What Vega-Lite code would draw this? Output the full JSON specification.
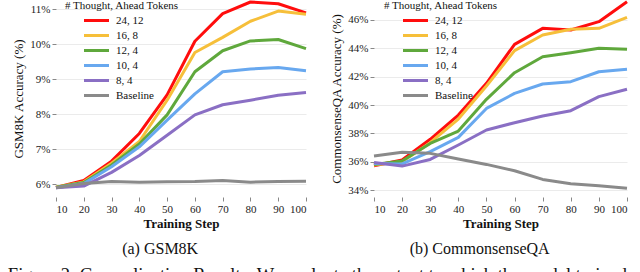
{
  "$schema": "https://vega.github.io/schema/vega-lite/v6.json",
  "background": "white",
  "padding": {"left": 7, "top": 0, "right": 0, "bottom": 0},
  "config": {
    "font": "Liberation Serif",
    "view": {"stroke": null},
    "axis": {"labelFont": "Liberation Serif", "labelFontSize": 11, "labelColor": "#222", "titleFont": "Liberation Serif", "titleFontSize": 13, "titleColor": "#111", "domain": false, "tickColor": "#888", "tickSize": 4, "gridColor": "#ebebeb"},
    "axisX": {"grid": false, "titleFontWeight": "bold", "labelPadding": 2, "titlePadding": 3, "labelAngle": 0},
    "axisY": {"titleFontWeight": "normal", "labelPadding": 2, "titlePadding": 4, "grid": true},
    "legend": {"orient": "none", "symbolType": "M-2.5,0H2.5", "symbolSize": 100, "symbolStrokeWidth": 3, "symbolOffset": 25, "labelFont": "Liberation Serif", "labelFontSize": 11, "labelColor": "#111", "titleFont": "Liberation Serif", "titleFontSize": 11, "titleFontWeight": "normal", "titleColor": "#111", "rowPadding": 2, "titlePadding": 3, "labelOffset": 13, "padding": 0}
  },
  "datasets": {
    "gsm": [
      {"series": "24, 12", "step": 10, "acc": 5.91}, {"series": "24, 12", "step": 20, "acc": 6.11}, {"series": "24, 12", "step": 30, "acc": 6.66}, {"series": "24, 12", "step": 40, "acc": 7.45}, {"series": "24, 12", "step": 50, "acc": 8.55}, {"series": "24, 12", "step": 60, "acc": 10.08}, {"series": "24, 12", "step": 70, "acc": 10.87}, {"series": "24, 12", "step": 80, "acc": 11.2}, {"series": "24, 12", "step": 90, "acc": 11.15}, {"series": "24, 12", "step": 100, "acc": 10.89},
      {"series": "16, 8", "step": 10, "acc": 5.92}, {"series": "16, 8", "step": 20, "acc": 6.07}, {"series": "16, 8", "step": 30, "acc": 6.6}, {"series": "16, 8", "step": 40, "acc": 7.22}, {"series": "16, 8", "step": 50, "acc": 8.4}, {"series": "16, 8", "step": 60, "acc": 9.76}, {"series": "16, 8", "step": 70, "acc": 10.19}, {"series": "16, 8", "step": 80, "acc": 10.65}, {"series": "16, 8", "step": 90, "acc": 10.94}, {"series": "16, 8", "step": 100, "acc": 10.85},
      {"series": "12, 4", "step": 10, "acc": 5.92}, {"series": "12, 4", "step": 20, "acc": 6.05}, {"series": "12, 4", "step": 30, "acc": 6.55}, {"series": "12, 4", "step": 40, "acc": 7.15}, {"series": "12, 4", "step": 50, "acc": 7.98}, {"series": "12, 4", "step": 60, "acc": 9.21}, {"series": "12, 4", "step": 70, "acc": 9.81}, {"series": "12, 4", "step": 80, "acc": 10.09}, {"series": "12, 4", "step": 90, "acc": 10.13}, {"series": "12, 4", "step": 100, "acc": 9.87},
      {"series": "10, 4", "step": 10, "acc": 5.9}, {"series": "10, 4", "step": 20, "acc": 6.02}, {"series": "10, 4", "step": 30, "acc": 6.5}, {"series": "10, 4", "step": 40, "acc": 7.07}, {"series": "10, 4", "step": 50, "acc": 7.83}, {"series": "10, 4", "step": 60, "acc": 8.58}, {"series": "10, 4", "step": 70, "acc": 9.21}, {"series": "10, 4", "step": 80, "acc": 9.29}, {"series": "10, 4", "step": 90, "acc": 9.33}, {"series": "10, 4", "step": 100, "acc": 9.24},
      {"series": "8, 4", "step": 10, "acc": 5.9}, {"series": "8, 4", "step": 20, "acc": 5.95}, {"series": "8, 4", "step": 30, "acc": 6.34}, {"series": "8, 4", "step": 40, "acc": 6.82}, {"series": "8, 4", "step": 50, "acc": 7.4}, {"series": "8, 4", "step": 60, "acc": 7.98}, {"series": "8, 4", "step": 70, "acc": 8.27}, {"series": "8, 4", "step": 80, "acc": 8.4}, {"series": "8, 4", "step": 90, "acc": 8.54}, {"series": "8, 4", "step": 100, "acc": 8.62},
      {"series": "Baseline", "step": 10, "acc": 5.9}, {"series": "Baseline", "step": 20, "acc": 6.02}, {"series": "Baseline", "step": 30, "acc": 6.08}, {"series": "Baseline", "step": 40, "acc": 6.06}, {"series": "Baseline", "step": 50, "acc": 6.07}, {"series": "Baseline", "step": 60, "acc": 6.08}, {"series": "Baseline", "step": 70, "acc": 6.11}, {"series": "Baseline", "step": 80, "acc": 6.06}, {"series": "Baseline", "step": 90, "acc": 6.08}, {"series": "Baseline", "step": 100, "acc": 6.09}
    ],
    "csqa": [
      {"series": "24, 12", "step": 10, "acc": 35.72}, {"series": "24, 12", "step": 20, "acc": 36.12}, {"series": "24, 12", "step": 30, "acc": 37.58}, {"series": "24, 12", "step": 40, "acc": 39.29}, {"series": "24, 12", "step": 50, "acc": 41.53}, {"series": "24, 12", "step": 60, "acc": 44.28}, {"series": "24, 12", "step": 70, "acc": 45.41}, {"series": "24, 12", "step": 80, "acc": 45.29}, {"series": "24, 12", "step": 90, "acc": 45.88}, {"series": "24, 12", "step": 100, "acc": 47.29},
      {"series": "16, 8", "step": 10, "acc": 35.76}, {"series": "16, 8", "step": 20, "acc": 36.0}, {"series": "16, 8", "step": 30, "acc": 37.34}, {"series": "16, 8", "step": 40, "acc": 39.01}, {"series": "16, 8", "step": 50, "acc": 41.34}, {"series": "16, 8", "step": 60, "acc": 43.84}, {"series": "16, 8", "step": 70, "acc": 44.94}, {"series": "16, 8", "step": 80, "acc": 45.34}, {"series": "16, 8", "step": 90, "acc": 45.41}, {"series": "16, 8", "step": 100, "acc": 46.19},
      {"series": "12, 4", "step": 10, "acc": 35.81}, {"series": "12, 4", "step": 20, "acc": 36.05}, {"series": "12, 4", "step": 30, "acc": 37.29}, {"series": "12, 4", "step": 40, "acc": 38.16}, {"series": "12, 4", "step": 50, "acc": 40.4}, {"series": "12, 4", "step": 60, "acc": 42.28}, {"series": "12, 4", "step": 70, "acc": 43.41}, {"series": "12, 4", "step": 80, "acc": 43.69}, {"series": "12, 4", "step": 90, "acc": 44.0}, {"series": "12, 4", "step": 100, "acc": 43.93},
      {"series": "10, 4", "step": 10, "acc": 35.88}, {"series": "10, 4", "step": 20, "acc": 35.84}, {"series": "10, 4", "step": 30, "acc": 36.71}, {"series": "10, 4", "step": 40, "acc": 37.72}, {"series": "10, 4", "step": 50, "acc": 39.76}, {"series": "10, 4", "step": 60, "acc": 40.82}, {"series": "10, 4", "step": 70, "acc": 41.48}, {"series": "10, 4", "step": 80, "acc": 41.65}, {"series": "10, 4", "step": 90, "acc": 42.35}, {"series": "10, 4", "step": 100, "acc": 42.52},
      {"series": "8, 4", "step": 10, "acc": 35.95}, {"series": "8, 4", "step": 20, "acc": 35.69}, {"series": "8, 4", "step": 30, "acc": 36.16}, {"series": "8, 4", "step": 40, "acc": 37.18}, {"series": "8, 4", "step": 50, "acc": 38.24}, {"series": "8, 4", "step": 60, "acc": 38.75}, {"series": "8, 4", "step": 70, "acc": 39.22}, {"series": "8, 4", "step": 80, "acc": 39.6}, {"series": "8, 4", "step": 90, "acc": 40.59}, {"series": "8, 4", "step": 100, "acc": 41.11},
      {"series": "Baseline", "step": 10, "acc": 36.4}, {"series": "Baseline", "step": 20, "acc": 36.66}, {"series": "Baseline", "step": 30, "acc": 36.59}, {"series": "Baseline", "step": 40, "acc": 36.19}, {"series": "Baseline", "step": 50, "acc": 35.81}, {"series": "Baseline", "step": 60, "acc": 35.36}, {"series": "Baseline", "step": 70, "acc": 34.75}, {"series": "Baseline", "step": 80, "acc": 34.45}, {"series": "Baseline", "step": 90, "acc": 34.31}, {"series": "Baseline", "step": 100, "acc": 34.12}
    ]
  },
  "title": {"text": "Figure 2: Generalization Results. We evaluate the extent to which the model trained", "orient": "bottom", "anchor": "start", "frame": "bounds", "font": "Liberation Serif", "fontSize": 18.5, "fontWeight": "normal", "color": "#111", "offset": 9, "dx": -5},
  "spacing": 22,
  "resolve": {"legend": {"color": "independent"}},
  "hconcat": [
    {
      "width": 250,
      "height": 197,
      "title": {"text": "(a) GSM8K", "orient": "bottom", "frame": "bounds", "anchor": "middle", "font": "Liberation Serif", "fontSize": 16, "fontWeight": "normal", "color": "#111", "offset": 11},
      "data": {"name": "gsm"},
      "mark": {"type": "line", "strokeWidth": 3, "strokeJoin": "round"},
      "encoding": {
        "x": {"field": "step", "type": "quantitative", "scale": {"domain": [10, 100], "nice": false, "zero": false}, "axis": {"values": [10, 20, 30, 40, 50, 60, 70, 80, 90, 100], "title": "Training Step"}},
        "y": {"field": "acc", "type": "quantitative", "scale": {"domain": [5.638, 11.257], "nice": false, "zero": false}, "axis": {"values": [6, 7, 8, 9, 10, 11], "labelExpr": "datum.value + '%'", "title": "GSM8K Accuracy (%)"}},
        "color": {"field": "series", "type": "nominal", "scale": {"domain": ["24, 12", "16, 8", "12, 4", "10, 4", "8, 4", "Baseline"], "range": ["#ff0d0d", "#f6bf3a", "#5fa83c", "#68a8ef", "#8a6fc4", "#8a8a8a"]}, "legend": {"title": "# Thought, Ahead Tokens", "legendX": 9, "legendY": 0}}
      }
    },
    {
      "width": 253,
      "height": 197,
      "title": {"text": "(b) CommonsenseQA", "orient": "bottom", "frame": "bounds", "anchor": "middle", "font": "Liberation Serif", "fontSize": 16, "fontWeight": "normal", "color": "#111", "offset": 11},
      "data": {"name": "csqa"},
      "mark": {"type": "line", "strokeWidth": 3, "strokeJoin": "round"},
      "encoding": {
        "x": {"field": "step", "type": "quantitative", "scale": {"domain": [10, 100], "nice": false, "zero": false}, "axis": {"values": [10, 20, 30, 40, 50, 60, 70, 80, 90, 100], "title": "Training Step"}},
        "y": {"field": "acc", "type": "quantitative", "scale": {"domain": [33.51, 47.41], "nice": false, "zero": false}, "axis": {"values": [34, 36, 38, 40, 42, 44, 46], "labelExpr": "datum.value + '%'", "title": "CommonsenseQA Accuracy (%)"}},
        "color": {"field": "series", "type": "nominal", "scale": {"domain": ["24, 12", "16, 8", "12, 4", "10, 4", "8, 4", "Baseline"], "range": ["#ff0d0d", "#f6bf3a", "#5fa83c", "#68a8ef", "#8a6fc4", "#8a8a8a"]}, "legend": {"title": "# Thought, Ahead Tokens", "legendX": 10, "legendY": 0}}
      }
    }
  ]
}
